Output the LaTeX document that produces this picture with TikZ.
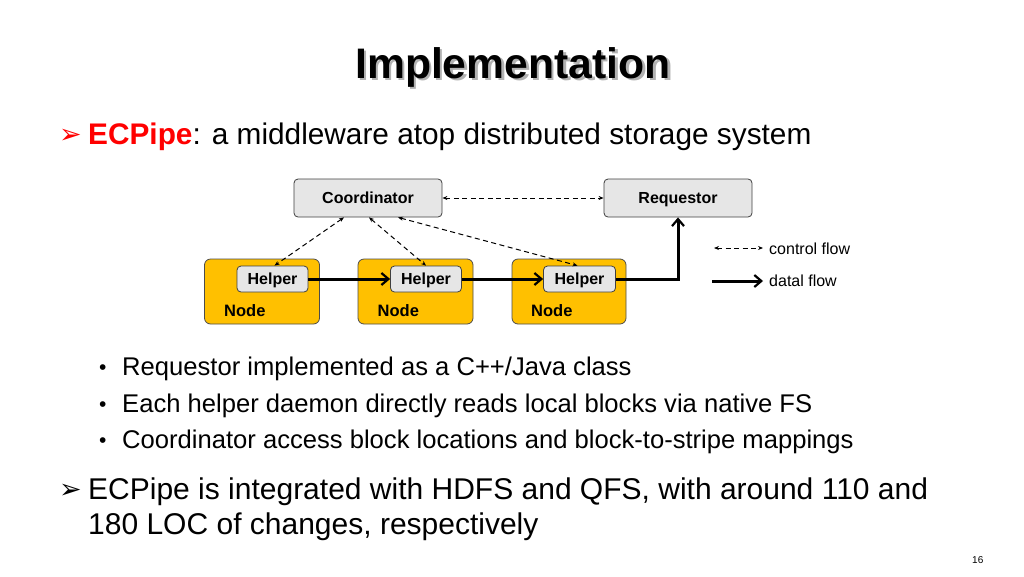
\documentclass[tikz,border=0pt]{standalone}
\usepackage{fontspec}
\setmainfont{Liberation Sans}
\newfontfamily\symfont{DejaVu Sans}
\usetikzlibrary{arrows.meta}
\definecolor{nodeorange}{HTML}{FFC000}
\definecolor{boxgray}{HTML}{E6E6E6}
\definecolor{ecred}{HTML}{FF0000}
\tikzset{
  txt/.style={inner sep=0pt, anchor=base west},
  graybox/.style={draw=black!75, fill=boxgray, rounded corners=4pt, line width=0.8pt, inner sep=0pt, text height=11.5pt, text depth=0.5pt, font=\fontsize{16}{19}\selectfont\bfseries},
  nodebox/.style={draw=black!70, fill=nodeorange, rounded corners=6pt, line width=0.8pt, inner sep=0pt},
  ctrl/.style={dashed, dash pattern=on 5pt off 3.5pt, line width=1pt, {Stealth[length=5pt,width=4pt]}-{Stealth[length=5pt,width=4pt]}},
  data/.style={line width=3pt, -{Straight Barb[length=7pt,width=12pt,line width=2.2pt]}},
  arrowbullet/.style={txt, font=\fontsize{27}{30}\selectfont\symfont\bfseries},
  dotbullet/.style={txt, font=\fontsize{21}{24}\selectfont},
}
\begin{document}
\begin{tikzpicture}[x=1pt,y=-1pt]
\useasboundingbox[fill=white] (0,0) rectangle (1024,576);
% title with shadow
\node[txt] (title) at (355,78) {\fontsize{42.7}{50}\selectfont\bfseries\rlap{\hspace{2.5pt}\raisebox{-2.5pt}{\textcolor{black!30}{Implementation}}}Implementation};
% first heading
\node[arrowbullet, text=ecred] (arr1) at (59,143) {➢};
\node[txt] (head1) at (88,144) {\fontsize{29.8}{34}\selectfont\textcolor{ecred}{\bfseries ECPipe}: a middleware atop distributed storage system};
% diagram
\node[graybox, minimum width=148pt, minimum height=38pt] (coord) at (368,198) {Coordinator};
\node[graybox, minimum width=148pt, minimum height=38pt] (req) at (678,198) {Requestor};
\node[nodebox, minimum width=115pt, minimum height=65pt] (n1) at (262,291.5) {};
\node[nodebox, minimum width=115pt, minimum height=65pt] (n2) at (415.5,291.5) {};
\node[nodebox, minimum width=114pt, minimum height=65pt] (n3) at (569,291.5) {};
\node[graybox, minimum width=71pt, minimum height=26pt] (h1) at (272.5,279) {Helper};
\node[graybox, minimum width=71pt, minimum height=26pt] (h2) at (426,279) {Helper};
\node[graybox, minimum width=72pt, minimum height=26pt] (h3) at (579.5,279) {Helper};
\node[txt] (l1) at (224,316) {\fontsize{16.5}{19}\selectfont\bfseries Node};
\node[txt] (l2) at (377.5,316) {\fontsize{16.5}{19}\selectfont\bfseries Node};
\node[txt] (l3) at (531,316) {\fontsize{16.5}{19}\selectfont\bfseries Node};
% control flows
\draw[ctrl] (coord.east) -- (req.west);
\draw[ctrl] ([xshift=-24pt]coord.south) -- ([xshift=2pt]h1.north);
\draw[ctrl] ([xshift=1pt]coord.south) -- (h2.north);
\draw[ctrl] ([xshift=30pt]coord.south) -- ([xshift=-2pt]h3.north);
% data flows
\draw[data] (h1.east) -- (h2.west);
\draw[data] (h2.east) -- (h3.west);
\draw[data] (h3.east) -| (req.south);
% legend
\coordinate (c1) at (714,248);
\coordinate (c2) at (763,248);
\coordinate (d1) at (712,281);
\coordinate (d2) at (763,281);
\draw[ctrl] (c1) -- (c2);
\draw[data] (d1) -- (d2);
\node[txt] (lc) at (769,254) {\fontsize{16}{18}\selectfont control flow};
\node[txt] (ld) at (769,286) {\fontsize{16}{18}\selectfont datal flow};
% bullets
\node[dotbullet] (bb1) at (99,374) {•};
\node[dotbullet] (bb2) at (99,411) {•};
\node[dotbullet] (bb3) at (99,447.5) {•};
\node[txt] (b1) at (122,375) {\fontsize{25.6}{29}\selectfont Requestor implemented as a C++/Java class};
\node[txt] (b2) at (122,412) {\fontsize{25.6}{29}\selectfont Each helper daemon directly reads local blocks via native FS};
\node[txt] (b3) at (122,448.5) {\fontsize{25.6}{29}\selectfont Coordinator access block locations and block-to-stripe mappings};
% second heading
\node[arrowbullet] (arr2) at (59,498) {➢};
\node[txt] (head2a) at (88,499) {\fontsize{30}{34}\selectfont ECPipe is integrated with HDFS and QFS, with around 110 and};
\node[txt] (head2b) at (88,534) {\fontsize{30}{34}\selectfont 180 LOC of changes, respectively};
% page number
\node[txt] (pg) at (972,563) {\fontsize{10}{12}\selectfont 16};
\end{tikzpicture}
\end{document}
